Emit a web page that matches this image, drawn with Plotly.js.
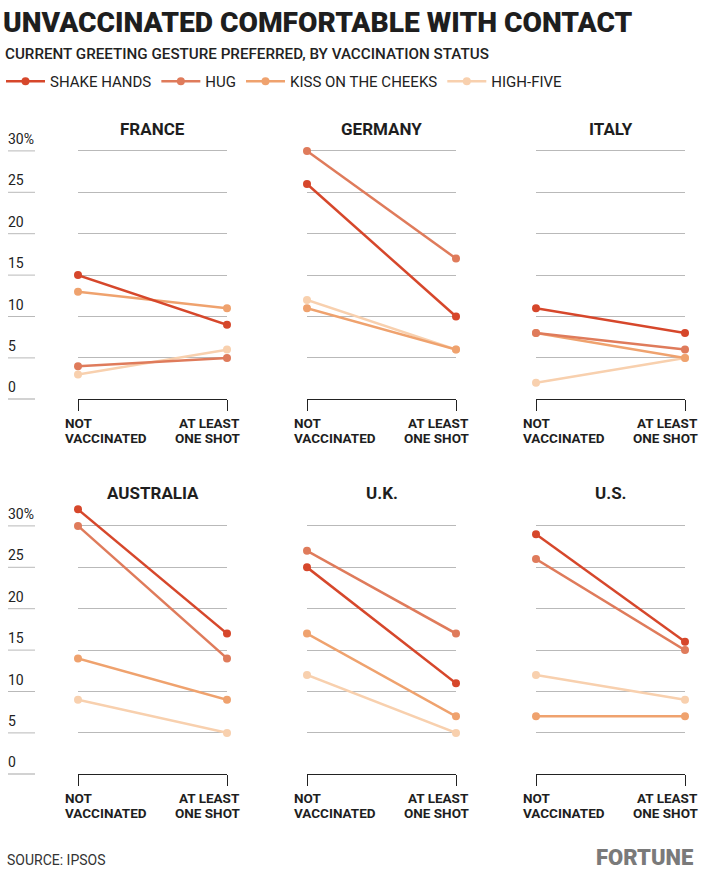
<!DOCTYPE html>
<html>
<head>
<meta charset="utf-8">
<script src="https://cdn.plot.ly/plotly-3.0.1.min.js"></script>
<style>
  html, body { margin: 0; padding: 0; background: #fff; }
  #chart { width: 701px; height: 883px; }
</style>
</head>
<body>
<div id="chart"></div>
<script>
// values, in percent
const countries = ['FRANCE', 'GERMANY', 'ITALY', 'AUSTRALIA', 'U.K.', 'U.S.']
const statuses = ['NOT<br>VACCINATED', 'AT LEAST<br>ONE SHOT']
const gestures = ['SHAKE HANDS', 'HUG', 'KISS ON THE CHEEKS', 'HIGH-FIVE']
// each pair is [not vaccinated, at least one shot], one pair per country
const shakeHands = [[15, 9], [26, 10], [11, 8], [32, 17], [25, 11], [29, 16]]
const hug = [[4, 5], [30, 17], [8, 6], [30, 14], [27, 17], [26, 15]]
const kissCheeks = [[13, 11], [11, 6], [8, 5], [14, 9], [17, 7], [7, 7]]
const highFive = [[3, 6], [12, 6], [2, 5], [9, 5], [12, 5], [12, 9]]
const yTicks = [0, 5, 10, 15, 20, 25, 30]

const W = 701, H = 883
const px = (x) => x / W
const py = (y) => 1 - y / H

const seriesValues = [shakeHands, hug, kissCheeks, highFive]
const colors = ['#d6472b', '#df7b5b', '#efa26e', '#f8d0ae']

// panel geometry (pixels)
const colX = [[78, 227], [307, 456], [536, 685]]
const rowZero = [399.3, 774.3]
const pxPerUnit = 8.28
const yMax = 33
const titleY = [129, 493]

const font = 'Roboto, "Open Sans", sans-serif'

let traces = []
// draw lighter series first so the darker ones sit on top
for (let g = gestures.length - 1; g >= 0; g--) {
    countries.forEach((c, i) => {
        const n = i === 0 ? '' : i + 1
        traces.push({
            x: statuses,
            y: seriesValues[g][i],
            name: gestures[g],
            type: 'scatter',
            mode: 'lines+markers',
            xaxis: 'x' + n,
            yaxis: 'y' + n,
            line: { color: colors[g], width: 2.5 },
            marker: { color: colors[g], size: 8 },
            cliponaxis: false,
            showlegend: i === 0,
            hovertemplate: c + '<br>%{y}%<extra>' + gestures[g] + '</extra>',
        })
    })
}

let layout = {
    width: W,
    height: H,
    margin: { l: 0, r: 0, t: 0, b: 0 },
    paper_bgcolor: '#fff',
    plot_bgcolor: '#fff',
    font: { family: font, color: '#222' },
    title: {
        text: 'UNVACCINATED COMFORTABLE WITH CONTACT',
        x: px(3), xanchor: 'left',
        y: py(22), yanchor: 'middle',
        font: { family: font, size: 28.2, weight: 900, color: '#1e1e1e' },
    },
    legend: {
        orientation: 'h',
        x: px(1), xanchor: 'left',
        y: py(65), yanchor: 'top',
        traceorder: 'reversed',
        font: { family: font, size: 15, color: '#222' },
        itemwidth: 39,
    },
    annotations: [],
    shapes: [],
}

countries.forEach((c, i) => {
    const n = i === 0 ? '' : i + 1
    const row = i < 3 ? 0 : 1
    const col = i % 3
    const zero = rowZero[row]
    const top = zero - yMax * pxPerUnit
    layout['xaxis' + n] = {
        domain: [px(colX[col][0]), px(colX[col][1])],
        anchor: 'y' + n,
        type: 'category',
        range: [0, 1],
        tickvals: statuses,
        showticklabels: false,
        ticks: 'outside',
        ticklen: 11,
        tickwidth: 1,
        tickcolor: '#222',
        showline: true,
        linecolor: '#222',
        linewidth: 1,
        showgrid: false,
        zeroline: false,
        fixedrange: true,
    }
    layout['yaxis' + n] = {
        domain: [py(zero), py(top)],
        anchor: 'x' + n,
        range: [0, yMax],
        tickvals: yTicks.slice(1),
        showticklabels: false,
        showgrid: true,
        gridcolor: '#b9b9b9',
        gridwidth: 1,
        zeroline: false,
        fixedrange: true,
    }
    layout.annotations.push({
        text: '<b>' + c + '</b>',
        xref: 'x' + n + ' domain', x: 0.5, xanchor: 'center',
        yref: 'paper', y: py(titleY[row]), yanchor: 'middle',
        showarrow: false,
        font: { family: font, size: 17, weight: 900, color: '#1e1e1e' },
    })
    // category labels under the bracket, one line at a time for tighter leading
    statuses.forEach((s, k) => {
        s.split('<br>').forEach((line, j) => {
            layout.annotations.push({
                text: line,
                xref: 'x' + n, x: k, xanchor: k === 0 ? 'left' : 'right',
                xshift: k === 0 ? -15 : 15,
                yref: 'y' + n, y: 0, yanchor: 'top', yshift: -14 - j * 15,
                showarrow: false,
                font: { family: font, size: 13.5, weight: 700, color: '#1e1e1e' },
            })
        })
    })
})

// left-hand scale column, one for each row
;['y', 'y4'].forEach(yref => {
    yTicks.forEach(t => {
        layout.shapes.push({
            type: 'line', xref: 'paper', yref: yref,
            x0: px(8), x1: px(35), y0: t, y1: t,
            line: { color: t === 0 ? '#222' : '#b9b9b9', width: 1 },
        })
        layout.annotations.push({
            text: t === 30 ? '30%' : String(t),
            xref: 'paper', x: px(6), xanchor: 'left',
            yref: yref, y: t, yanchor: 'bottom', yshift: 2,
            showarrow: false,
            font: { family: font, size: 14, color: '#222' },
        })
    })
})

layout.annotations.push({
    text: 'CURRENT GREETING GESTURE PREFERRED, BY VACCINATION STATUS',
    xref: 'paper', x: px(3), xanchor: 'left',
    yref: 'paper', y: py(54), yanchor: 'middle',
    showarrow: false,
    font: { family: font, size: 15.2, weight: 500, color: '#222' },
})
layout.annotations.push({
    text: 'SOURCE: IPSOS',
    xref: 'paper', x: px(5), xanchor: 'left',
    yref: 'paper', y: py(860), yanchor: 'middle',
    showarrow: false,
    font: { family: font, size: 14, color: '#333' },
})
layout.annotations.push({
    text: 'FORTUNE',
    xref: 'paper', x: px(695), xanchor: 'right',
    yref: 'paper', y: py(857), yanchor: 'middle',
    showarrow: false,
    font: { family: font, size: 22, weight: 900, color: '#7a7a7a' },
})

Plotly.newPlot('chart', traces, layout, { displayModeBar: false, staticPlot: true })
</script>
</body>
</html>
